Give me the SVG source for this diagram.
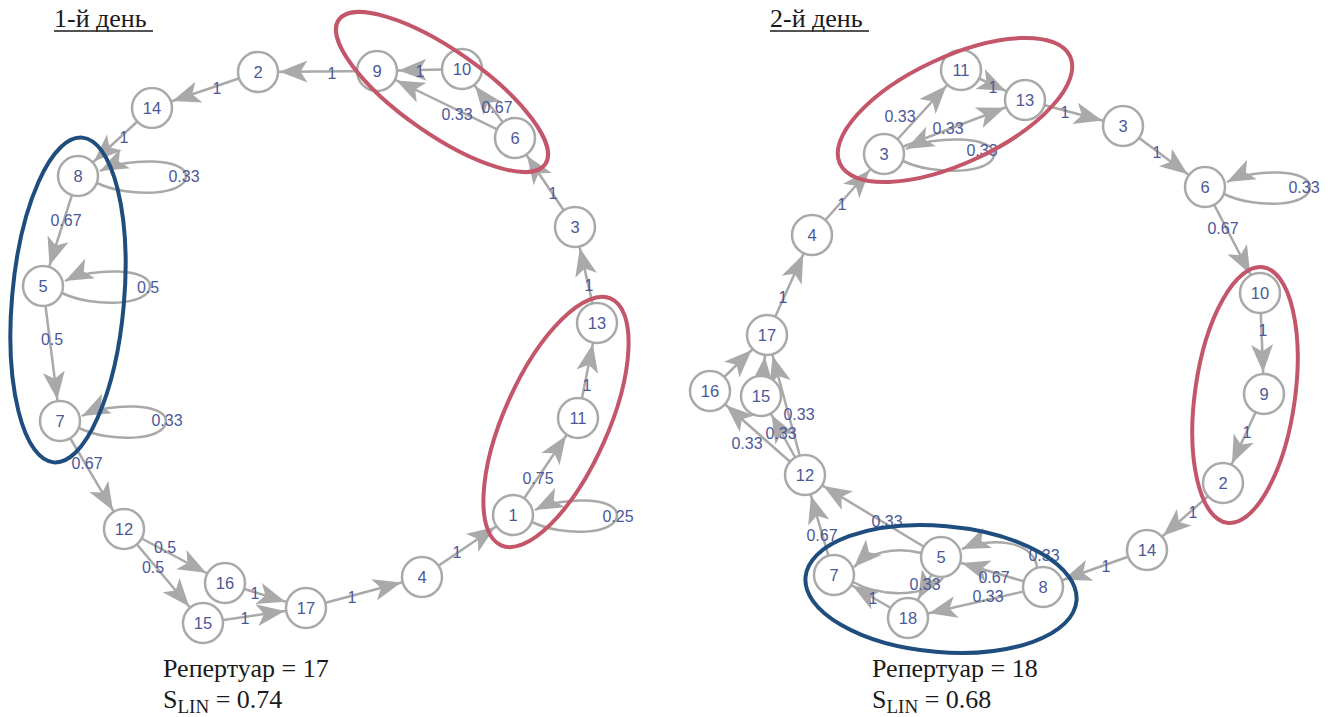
<svg xmlns="http://www.w3.org/2000/svg" width="1333" height="717" viewBox="0 0 1333 717">
<style>
.e{fill:none;stroke:#a9a9a9;stroke-width:2.5}
.ea{fill:none;stroke:#a9a9a9;stroke-width:2.5;marker-end:url(#a)}
.eb{fill:none;stroke:#a9a9a9;stroke-width:2.5;marker-end:url(#b)}
.l{font-family:"Liberation Sans",Arial,sans-serif;font-size:16px;fill:#4b5898;text-anchor:middle}
.n circle{fill:#fff;stroke:#a9a9a9;stroke-width:2.5}
.n text{font-family:"Liberation Sans",Arial,sans-serif;font-size:16.5px;fill:#4b5898;text-anchor:middle}
.t{font-family:"Liberation Serif","Times New Roman",serif;font-size:26px;fill:#1a1a1a}
.red{fill:none;stroke:#c4566a;stroke-width:4}
.blue{fill:none;stroke:#1e4d7e;stroke-width:4}
</style>
<defs>
<marker id="a" markerUnits="userSpaceOnUse" viewBox="0 -12 50 24" markerWidth="50" markerHeight="24" refX="49.5" refY="0" orient="auto"><path d="M0,-11 L28,0 L0,11 L7,0 Z" fill="#a9a9a9"/></marker>
<marker id="b" markerUnits="userSpaceOnUse" viewBox="0 -12 30 24" markerWidth="30" markerHeight="24" refX="28" refY="0" orient="auto"><path d="M0,-11 L28,0 L0,11 L7,0 Z" fill="#a9a9a9"/></marker>
</defs>
<rect width="1333" height="717" fill="#fff"/>

<g id="titles">
<text class="t" x="54" y="27">1-й день</text>
<line x1="54" y1="31" x2="153" y2="31" stroke="#1a1a1a" stroke-width="1.3"/>
<text class="t" x="770" y="27">2-й день</text>
<line x1="770" y1="31" x2="869" y2="31" stroke="#1a1a1a" stroke-width="1.3"/>
<text class="t" x="163" y="677">Репертуар = 17</text>
<text class="t" x="163" y="708">S<tspan font-size="19" dy="5">LIN</tspan><tspan dy="-5"> = 0.74</tspan></text>
<text class="t" x="872" y="677">Репертуар = 18</text>
<text class="t" x="872" y="708">S<tspan font-size="19" dy="5">LIN</tspan><tspan dy="-5"> = 0.68</tspan></text>
</g>

<g id="connectors">
<!-- left graph -->
<line class="ea" x1="377" y1="71" x2="258" y2="72"/>
<line class="ea" x1="462" y1="69" x2="377" y2="71"/>
<line class="ea" x1="515" y1="138" x2="462" y2="69"/>
<line class="ea" x1="515" y1="138" x2="377" y2="71"/>
<line class="ea" x1="575" y1="227" x2="515" y2="138"/>
<line class="ea" x1="597" y1="323" x2="575" y2="227"/>
<line class="ea" x1="578" y1="418" x2="597" y2="323"/>
<line class="ea" x1="513" y1="515" x2="578" y2="418"/>
<line class="ea" x1="422" y1="577" x2="513" y2="515"/>
<line class="ea" x1="306" y1="608" x2="422" y2="577"/>
<line class="ea" x1="225" y1="583" x2="306" y2="608"/>
<line class="ea" x1="203" y1="623" x2="306" y2="608"/>
<line class="ea" x1="124" y1="529" x2="225" y2="583"/>
<line class="ea" x1="124" y1="529" x2="203" y2="623"/>
<line class="ea" x1="60" y1="421" x2="124" y2="529"/>
<line class="ea" x1="43" y1="286" x2="60" y2="421"/>
<line class="ea" x1="78" y1="176" x2="43" y2="286"/>
<line class="ea" x1="152" y1="108" x2="78" y2="176"/>
<line class="ea" x1="258" y1="72" x2="152" y2="108"/>
<path class="eb" d="M97,183 C128,198 186,196 186,176 C186,158 128,157 100,171"/>
<path class="eb" d="M62,293 C93,308 150,306 150,286 C150,268 93,267 65,281"/>
<path class="eb" d="M79,428 C110,443 166,441 166,421 C166,403 110,402 82,416"/>
<path class="eb" d="M532,522 C563,537 617,535 617,515 C617,497 563,496 535,510"/>
<!-- right graph -->
<line class="ea" x1="812" y1="235" x2="884" y2="154"/>
<line class="ea" x1="884" y1="154" x2="961" y2="70"/>
<line class="ea" x1="884" y1="154" x2="1025" y2="100"/>
<line class="ea" x1="961" y1="70" x2="1025" y2="100"/>
<line class="ea" x1="1025" y1="100" x2="1123" y2="126"/>
<line class="ea" x1="1123" y1="126" x2="1205" y2="187"/>
<line class="ea" x1="1205" y1="187" x2="1260" y2="293"/>
<line class="ea" x1="1260" y1="293" x2="1264" y2="394"/>
<line class="ea" x1="1264" y1="394" x2="1223" y2="483"/>
<line class="ea" x1="1223" y1="483" x2="1147" y2="550"/>
<line class="ea" x1="1147" y1="550" x2="1043" y2="587"/>
<line class="ea" x1="1043" y1="587" x2="941" y2="557"/>
<line class="ea" x1="1043" y1="587" x2="908" y2="618"/>
<line class="ea" x1="941" y1="557" x2="908" y2="618"/>
<line class="ea" x1="908" y1="618" x2="834" y2="575"/>
<line class="ea" x1="834" y1="575" x2="805" y2="475"/>
<line class="ea" x1="941" y1="557" x2="805" y2="475"/>
<line class="ea" x1="805" y1="475" x2="710" y2="391"/>
<line class="ea" x1="805" y1="475" x2="761" y2="396"/>
<line class="ea" x1="805" y1="475" x2="767" y2="335"/>
<line class="ea" x1="710" y1="391" x2="767" y2="335"/>
<line class="ea" x1="761" y1="396" x2="767" y2="335"/>
<line class="ea" x1="767" y1="335" x2="812" y2="235"/>
<path class="eb" d="M903,161 C934,176 994,174 994,154 C994,136 934,135 906,149"/>
<path class="eb" d="M1224,194 C1255,209 1310,207 1310,187 C1310,169 1255,168 1227,182"/>
<path class="eb" d="M1037,567 C1033,540 990,537 962,549"/>
<path class="eb" d="M921,553 C895,546 868,553 854,567"/>
<path class="e" d="M853,582 C880,597 925,598 943,578"/>

<!-- labels left -->
<text class="l" x="332" y="79">1</text>
<text class="l" x="420" y="77">1</text>
<text class="l" x="497" y="113">0.67</text>
<text class="l" x="457" y="120">0.33</text>
<text class="l" x="553" y="199">1</text>
<text class="l" x="589" y="291">1</text>
<text class="l" x="587" y="391">1</text>
<text class="l" x="538" y="484">0.75</text>
<text class="l" x="618" y="522">0.25</text>
<text class="l" x="457" y="558">1</text>
<text class="l" x="352" y="603">1</text>
<text class="l" x="255" y="599">1</text>
<text class="l" x="245" y="624">1</text>
<text class="l" x="165" y="553">0.5</text>
<text class="l" x="153" y="573">0.5</text>
<text class="l" x="87" y="469">0.67</text>
<text class="l" x="167" y="426">0.33</text>
<text class="l" x="52" y="345">0.5</text>
<text class="l" x="148" y="293">0.5</text>
<text class="l" x="66" y="226">0.67</text>
<text class="l" x="184" y="182">0.33</text>
<text class="l" x="124" y="143">1</text>
<text class="l" x="217" y="94">1</text>
<!-- labels right -->
<text class="l" x="842" y="210">1</text>
<text class="l" x="900" y="122">0.33</text>
<text class="l" x="948" y="134">0.33</text>
<text class="l" x="982" y="156">0.33</text>
<text class="l" x="993" y="93">1</text>
<text class="l" x="1065" y="118">1</text>
<text class="l" x="1157" y="158">1</text>
<text class="l" x="1304" y="193">0.33</text>
<text class="l" x="1223" y="234">0.67</text>
<text class="l" x="1263" y="336">1</text>
<text class="l" x="1247" y="438">1</text>
<text class="l" x="1193" y="518">1</text>
<text class="l" x="1106" y="572">1</text>
<text class="l" x="1044" y="561">0.33</text>
<text class="l" x="994" y="583">0.67</text>
<text class="l" x="988" y="602">0.33</text>
<text class="l" x="925" y="590">0.33</text>
<text class="l" x="873" y="604">1</text>
<text class="l" x="822" y="541">0.67</text>
<text class="l" x="887" y="527">0.33</text>
<text class="l" x="747" y="449">0.33</text>
<text class="l" x="781" y="439">0.33</text>
<text class="l" x="799" y="420">0.33</text>
<text class="l" x="783" y="303">1</text>
</g>

<g id="L2" class="n"><circle cx="258" cy="72" r="20"/><text x="258" y="78">2</text></g>
<g id="L14" class="n"><circle cx="152" cy="108" r="20"/><text x="152" y="114">14</text></g>
<g id="L8" class="n"><circle cx="78" cy="176" r="20"/><text x="78" y="182">8</text></g>
<g id="L5" class="n"><circle cx="43" cy="286" r="20"/><text x="43" y="292">5</text></g>
<g id="L7" class="n"><circle cx="60" cy="421" r="20"/><text x="60" y="427">7</text></g>
<g id="L12" class="n"><circle cx="124" cy="529" r="20"/><text x="124" y="535">12</text></g>
<g id="L16" class="n"><circle cx="225" cy="583" r="20"/><text x="225" y="589">16</text></g>
<g id="L15" class="n"><circle cx="203" cy="623" r="20"/><text x="203" y="629">15</text></g>
<g id="L17" class="n"><circle cx="306" cy="608" r="20"/><text x="306" y="614">17</text></g>
<g id="L4" class="n"><circle cx="422" cy="577" r="20"/><text x="422" y="583">4</text></g>
<g id="L1" class="n"><circle cx="513" cy="515" r="20"/><text x="513" y="521">1</text></g>
<g id="L11" class="n"><circle cx="578" cy="418" r="20"/><text x="578" y="424">11</text></g>
<g id="L13" class="n"><circle cx="597" cy="323" r="20"/><text x="597" y="329">13</text></g>
<g id="L3" class="n"><circle cx="575" cy="227" r="20"/><text x="575" y="233">3</text></g>
<g id="L6" class="n"><circle cx="515" cy="138" r="20"/><text x="515" y="144">6</text></g>
<g id="L10" class="n"><circle cx="462" cy="69" r="20"/><text x="462" y="75">10</text></g>
<g id="L9" class="n"><circle cx="377" cy="71" r="20"/><text x="377" y="77">9</text></g>

<g id="R11" class="n"><circle cx="961" cy="70" r="20"/><text x="961" y="76">11</text></g>
<g id="R13" class="n"><circle cx="1025" cy="100" r="20"/><text x="1025" y="106">13</text></g>
<g id="R3a" class="n"><circle cx="884" cy="154" r="20"/><text x="884" y="160">3</text></g>
<g id="R3b" class="n"><circle cx="1123" cy="126" r="20"/><text x="1123" y="132">3</text></g>
<g id="R6" class="n"><circle cx="1205" cy="187" r="20"/><text x="1205" y="193">6</text></g>
<g id="R10" class="n"><circle cx="1260" cy="293" r="20"/><text x="1260" y="299">10</text></g>
<g id="R9" class="n"><circle cx="1264" cy="394" r="20"/><text x="1264" y="400">9</text></g>
<g id="R2" class="n"><circle cx="1223" cy="483" r="20"/><text x="1223" y="489">2</text></g>
<g id="R14" class="n"><circle cx="1147" cy="550" r="20"/><text x="1147" y="556">14</text></g>
<g id="R8" class="n"><circle cx="1043" cy="587" r="20"/><text x="1043" y="593">8</text></g>
<g id="R5" class="n"><circle cx="941" cy="557" r="20"/><text x="941" y="563">5</text></g>
<g id="R7" class="n"><circle cx="834" cy="575" r="20"/><text x="834" y="581">7</text></g>
<g id="R18" class="n"><circle cx="908" cy="618" r="20"/><text x="908" y="624">18</text></g>
<g id="R12" class="n"><circle cx="805" cy="475" r="20"/><text x="805" y="481">12</text></g>
<g id="R17" class="n"><circle cx="767" cy="335" r="20"/><text x="767" y="341">17</text></g>
<g id="R16" class="n"><circle cx="710" cy="391" r="20"/><text x="710" y="397">16</text></g>
<g id="R15" class="n"><circle cx="761" cy="396" r="20"/><text x="761" y="402">15</text></g>
<g id="R4" class="n"><circle cx="812" cy="235" r="20"/><text x="812" y="241">4</text></g>

<g id="clusters">
<ellipse class="blue" cx="68" cy="300" rx="56" ry="163" transform="rotate(5 68 300)"/>
<ellipse class="red" cx="442" cy="92" rx="126" ry="42" transform="rotate(35 442 92)"/>
<ellipse class="red" cx="556" cy="422" rx="52" ry="135" transform="rotate(24 556 422)"/>
<ellipse class="red" cx="955" cy="110" rx="127" ry="53" transform="rotate(-25 955 110)"/>
<ellipse class="red" cx="1245" cy="395" rx="50" ry="129" transform="rotate(8 1245 395)"/>
<ellipse class="blue" cx="941" cy="589" rx="136" ry="63" transform="rotate(5 941 589)"/>
</g>
</svg>
